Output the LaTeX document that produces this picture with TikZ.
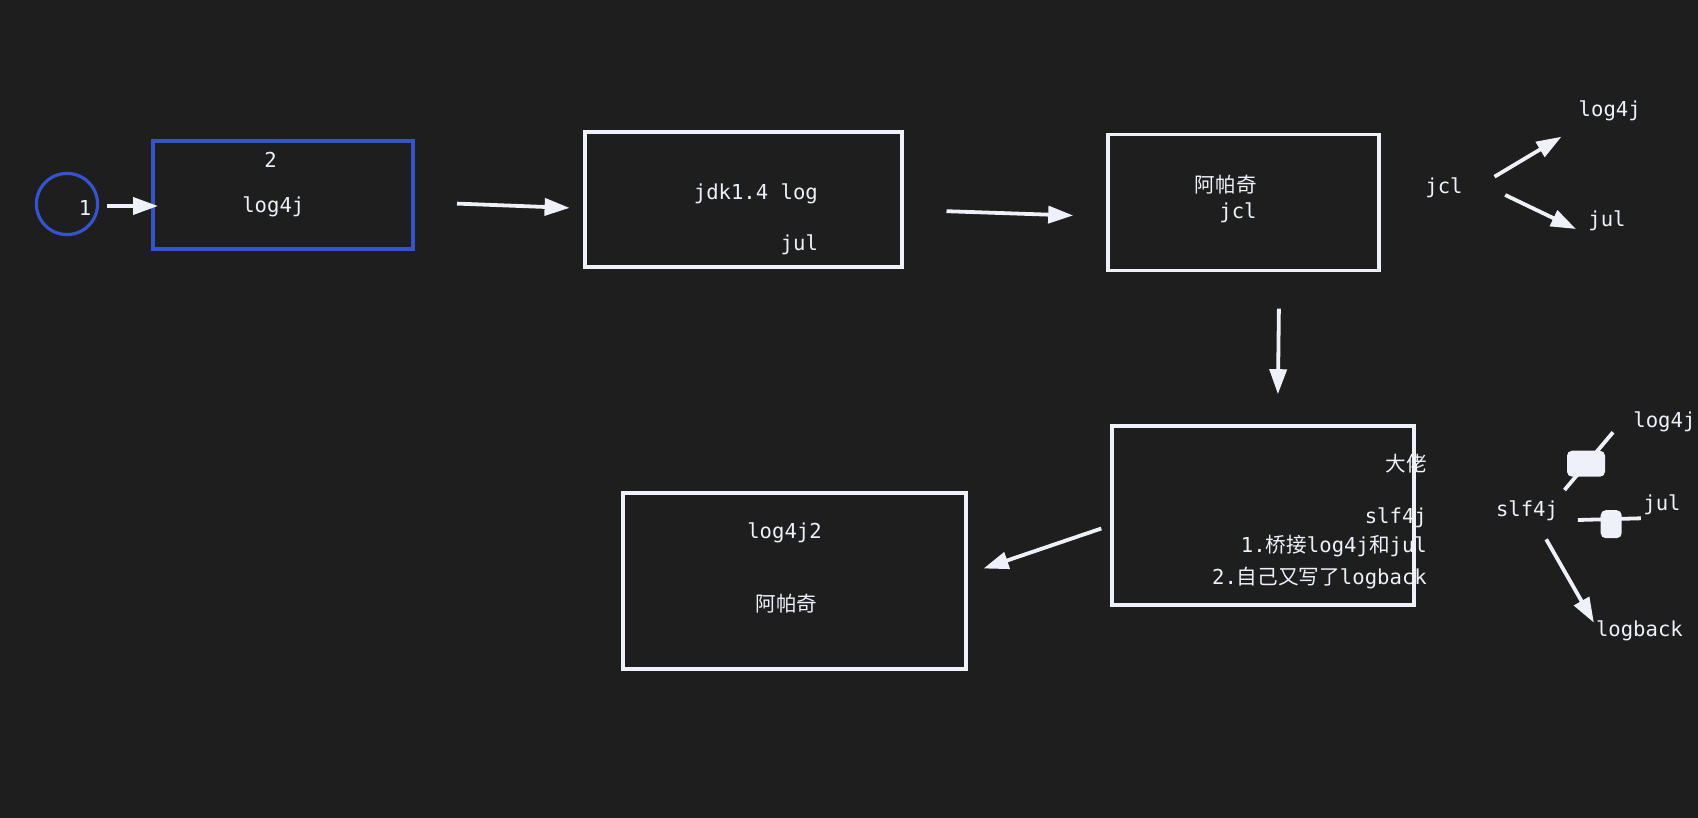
\documentclass[tikz,border=0pt]{standalone}
\usepackage{fontspec}
\setmonofont{DejaVu Sans Mono}
\newfontfamily\cjk{Noto Sans CJK SC}
\usepackage{tikz}
\usetikzlibrary{arrows.meta,positioning}
\definecolor{fondo}{HTML}{1E1E1E}
\definecolor{tinta}{HTML}{EEF1FA}
\definecolor{azul}{HTML}{3653CC}
\tikzset{
  caja/.style={draw=tinta,line width=1.9pt,inner sep=0pt},
  cajaazul/.style={draw=azul,line width=1.9pt,inner sep=0pt},
  txt/.style={text=tinta,font=\ttfamily\fontsize{10.3}{12.4}\selectfont,inner sep=0pt},
  flecha/.style={-{Triangle[length=12.5pt,width=8.5pt]},tinta,line width=1.9pt},
  linea/.style={tinta,line width=1.9pt},
  bloque/.style={fill=tinta,rounded corners=2.5pt,inner sep=0pt}
}

\begin{document}
\begin{tikzpicture}[x=0.5pt,y=-0.5pt]
\fill[fondo] (0,0) rectangle (1698,818);
\useasboundingbox (0,0) rectangle (1698,818);

\node[circle,draw=azul,line width=1.6pt,minimum size=30.6pt,inner sep=0pt] (uno) at (67,204) {};
\node[txt] (unotxt) at (85,208) {1};
\node[cajaazul,minimum width=130pt,minimum height=54pt] (log4j) at (282.6,195) {};
\node[txt] (dostxt) at (270.5,160) {2};
\node[txt] (log4jtxt) at (273.3,207.3) {log4j};

\node[caja,minimum width=158.6pt,minimum height=67.6pt] (jul) at (743.5,199.8) {};
\node[txt,anchor=east] (jdktxt) at (818.3,194) {jdk1.4 log};
\node[txt,anchor=east] (jultxt) at (818.3,245) {jul};

\node[caja,minimum width=135.4pt,minimum height=68pt] (jcl) at (1243.2,202.5) {};
\node[txt,anchor=east] (apachetxt) at (1257,185) {\cjk 阿帕奇};
\node[txt,anchor=east] (jcltxt) at (1257,212.5) {jcl};
\node[txt] (jclder) at (1444,187.5) {jcl};
\node[txt] (jcllog4j) at (1609.7,110.5) {log4j};
\node[txt] (jcljul) at (1607,220.3) {jul};

\node[caja,minimum width=151pt,minimum height=89.8pt] (slf) at (1263.2,515.5) {};
\node[txt,anchor=east] (jefetxt) at (1427.2,463.3) {\cjk 大佬};
\node[txt,anchor=east] (slftxt) at (1427.2,518) {slf4j};
\node[txt,anchor=east] (puente) at (1427.2,546) {1.{\cjk 桥接}log4j{\cjk 和}jul};
\node[txt,anchor=east] (propio) at (1427.2,577.7) {2.{\cjk 自己又写了}logback};
\node[txt] (slfder) at (1527,511) {slf4j};
\node[txt] (slflog4j) at (1664.4,422) {log4j};
\node[txt] (slfjul) at (1662,505) {jul};
\node[txt] (slfback) at (1639.4,631) {logback};

\node[caja,minimum width=171.5pt,minimum height=88.2pt] (log4jdos) at (794.3,581) {};
\node[txt] (log4jdostxt) at (784.5,533.3) {log4j2};
\node[txt] (apachedos) at (786.5,603.3) {\cjk 阿帕奇};

\coordinate (a1) at (107,206);   \coordinate (b1) at (158,206);
\coordinate (a2) at (457,203.6); \coordinate (b2) at (569.6,207.9);
\coordinate (a3) at (946.5,211.2); \coordinate (b3) at (1073.2,215.5);
\coordinate (a4) at (1278.9,308.6); \coordinate (b4) at (1277.9,394.2);
\coordinate (a5) at (1101.3,528.5); \coordinate (b5) at (983.5,568.5);
\coordinate (a6) at (1494.5,176.7); \coordinate (b6) at (1561.5,136.7);
\coordinate (a7) at (1505.2,195); \coordinate (b7) at (1576,229);
\coordinate (a8) at (1564.5,490); \coordinate (b8) at (1613,432.3);
\coordinate (a9) at (1577.9,520); \coordinate (b9) at (1640.8,518.3);
\coordinate (a10) at (1546.2,539.3); \coordinate (b10) at (1593.9,622.7);

\draw[flecha] (a1) -- (b1);
\draw[flecha] (a2) -- (b2);
\draw[flecha] (a3) -- (b3);
\draw[flecha] (a4) -- (b4);
\draw[flecha] (a5) -- (b5);
\draw[flecha] (a6) -- (b6);
\draw[flecha] (a7) -- (b7);
\draw[linea] (a8) -- (b8);
\draw[linea] (a9) -- (b9);
\draw[flecha] (a10) -- (b10);
\node[bloque,minimum width=19pt,minimum height=13pt] (tapa1) at (1586,463.7) {};
\node[bloque,minimum width=10.5pt,minimum height=14pt] (tapa2) at (1611.2,524.2) {};
\end{tikzpicture}
\end{document}
